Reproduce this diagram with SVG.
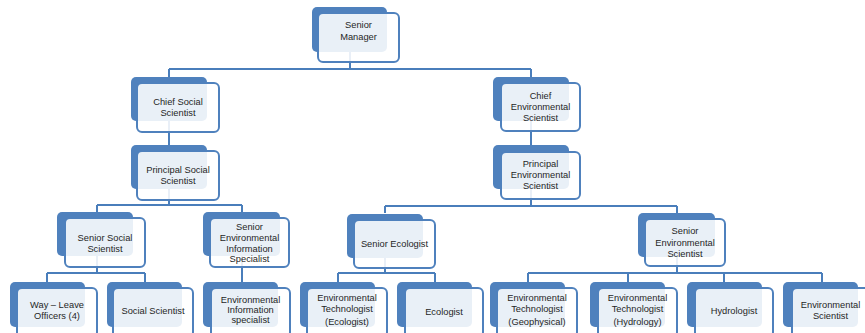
<svg xmlns="http://www.w3.org/2000/svg" width="865" height="333" viewBox="0 0 865 333">
<style>
.bk{fill:#4F81BD;}
.fr{fill:#ffffff;fill-opacity:0.88;stroke:#4F81BD;stroke-width:2;}
.cn{fill:none;stroke:#4A7EBB;stroke-width:2;}
text{font-family:"Liberation Sans",Arial,sans-serif;font-size:9.3px;fill:#262626;text-anchor:middle;}
</style>
<rect width="865" height="333" fill="#ffffff"/>
<g id="connectors">
<path class="cn" d="M350 52V69M169 69H531M169 69V77M531 69V77"/>
<path class="cn" d="M169 121V145"/>
<path class="cn" d="M169 189V205M97 205H242M97 205V212M242 205V212"/>
<path class="cn" d="M97 256V273M47 273H145M47 273V282M145 273V282"/>
<path class="cn" d="M242 256V282"/>
<path class="cn" d="M531 121V145"/>
<path class="cn" d="M531 189V206M385 206H677M385 206V213M677 206V213"/>
<path class="cn" d="M385 258V273M338 273H435M338 273V282M435 273V282"/>
<path class="cn" d="M677 257V273M528 273H822M528 273V282M628 273V282M724 273V282M822 273V282"/>
</g>
<g id="senior-manager">
<rect class="bk" x="312" y="7" width="75" height="45" rx="5"/>
<rect class="fr" x="318" y="13" width="81" height="49" rx="5"/>
<text x="358.5" y="28">Senior</text><text x="358.5" y="40">Manager</text>
</g>
<g id="chief-social">
<rect class="bk" x="131" y="77" width="76" height="44" rx="5"/>
<rect class="fr" x="137" y="83" width="82" height="49" rx="5"/>
<text x="178" y="105">Chief Social</text><text x="178" y="116">Scientist</text>
</g>
<g id="principal-social">
<rect class="bk" x="131" y="145" width="76" height="44" rx="5"/>
<rect class="fr" x="137" y="151" width="82" height="49" rx="5"/>
<text x="178" y="172.5">Principal Social</text><text x="178" y="184">Scientist</text>
</g>
<g id="chief-env">
<rect class="bk" x="493" y="77" width="76" height="44" rx="5"/>
<rect class="fr" x="501" y="83" width="79" height="48" rx="5"/>
<text x="540.5" y="99">Chief</text><text x="540.5" y="110">Environmental</text><text x="540.5" y="121">Scientist</text>
</g>
<g id="principal-env">
<rect class="bk" x="493" y="145" width="76" height="44" rx="5"/>
<rect class="fr" x="501" y="152" width="79" height="47" rx="5"/>
<text x="540.5" y="167">Principal</text><text x="540.5" y="178">Environmental</text><text x="540.5" y="189">Scientist</text>
</g>
<g id="senior-social">
<rect class="bk" x="57" y="212" width="76" height="44" rx="5"/>
<rect class="fr" x="65" y="218" width="80" height="49" rx="5"/>
<text x="105" y="241">Senior Social</text><text x="105" y="252">Scientist</text>
</g>
<g id="senior-env-info">
<rect class="bk" x="203" y="212" width="77" height="44" rx="5"/>
<rect class="fr" x="210" y="218" width="79" height="49" rx="5"/>
<text x="249.5" y="230">Senior</text><text x="249.5" y="241">Environmental</text><text x="249.5" y="251.5">Information</text><text x="249.5" y="262">Specialist</text>
</g>
<g id="senior-ecologist">
<rect class="bk" x="347" y="214" width="76" height="44" rx="5"/>
<rect class="fr" x="354" y="220" width="81" height="48" rx="5"/>
<text x="394.5" y="247">Senior Ecologist</text>
</g>
<g id="senior-env-sci">
<rect class="bk" x="638" y="213" width="77" height="44" rx="5"/>
<rect class="fr" x="645" y="219" width="80" height="47" rx="5"/>
<text x="685" y="234">Senior</text><text x="685" y="246">Environmental</text><text x="685" y="257">Scientist</text>
</g>
<g id="way-leave">
<rect class="bk" x="10" y="282" width="75" height="45" rx="5"/>
<rect class="fr" x="17" y="288" width="80" height="49" rx="5"/>
<text x="57" y="308">Way – Leave</text><text x="57" y="319">Officers (4)</text>
</g>
<g id="social-scientist">
<rect class="bk" x="107" y="282" width="75" height="45" rx="5"/>
<rect class="fr" x="113" y="288" width="80" height="49" rx="5"/>
<text x="153" y="314">Social Scientist</text>
</g>
<g id="env-info-specialist">
<rect class="bk" x="203" y="282" width="75" height="45" rx="5"/>
<rect class="fr" x="211" y="288" width="79" height="49" rx="5"/>
<text x="250.5" y="303">Environmental</text><text x="250.5" y="313">Information</text><text x="250.5" y="323">specialist</text>
</g>
<g id="env-tech-ecologist">
<rect class="bk" x="300" y="282" width="75" height="45" rx="5"/>
<rect class="fr" x="307" y="288" width="80" height="49" rx="5"/>
<text x="347" y="301">Environmental</text><text x="347" y="311.5">Technologist</text><text x="347" y="324.5">(Ecologist)</text>
</g>
<g id="ecologist">
<rect class="bk" x="397" y="282" width="75" height="45" rx="5"/>
<rect class="fr" x="405" y="288" width="78" height="49" rx="5"/>
<text x="444" y="315">Ecologist</text>
</g>
<g id="env-tech-geophysical">
<rect class="bk" x="490" y="282" width="75" height="45" rx="5"/>
<rect class="fr" x="497" y="288" width="80" height="49" rx="5"/>
<text x="537" y="301">Environmental</text><text x="537" y="312">Technologist</text><text x="537" y="325">(Geophysical)</text>
</g>
<g id="env-tech-hydrology">
<rect class="bk" x="590" y="282" width="75" height="45" rx="5"/>
<rect class="fr" x="598" y="288" width="79" height="49" rx="5"/>
<text x="637.5" y="301">Environmental</text><text x="637.5" y="312">Technologist</text><text x="637.5" y="325">(Hydrology)</text>
</g>
<g id="hydrologist">
<rect class="bk" x="687" y="282" width="75" height="45" rx="5"/>
<rect class="fr" x="695" y="288" width="78" height="49" rx="5"/>
<text x="734" y="314">Hydrologist</text>
</g>
<g id="env-scientist">
<rect class="bk" x="783" y="282" width="75" height="45" rx="5"/>
<rect class="fr" x="792" y="288" width="80" height="49" rx="5"/>
<text x="830.5" y="308">Environmental</text><text x="830.5" y="319">Scientist</text>
</g>
</svg>
